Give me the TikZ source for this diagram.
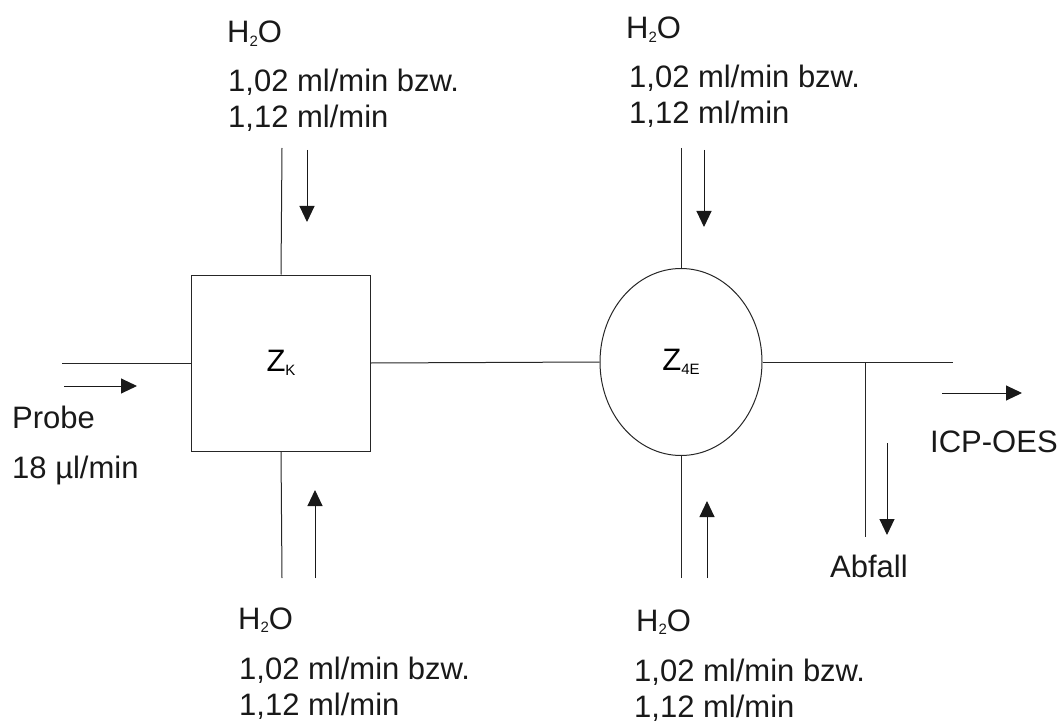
\documentclass[tikz,border=0pt]{standalone}
\usepackage{fontspec}
\setmainfont{Liberation Sans}
\usetikzlibrary{arrows.meta,shapes.geometric}
\newcommand\lowsub[1]{\raisebox{-0.12em}{\fontsize{15}{15}\selectfont #1}}
\tikzset{
  pipe/.style={draw=black!85, line width=1pt},
  flow/.style={draw=black!90, line width=1pt, -{Triangle[length=16pt,width=15pt]}},
  lbl/.style={anchor=base west, inner sep=0pt, font=\fontsize{31}{36}\selectfont, text=black!90},
  lbl2/.style={anchor=base west, inner sep=0pt, font=\fontsize{31}{36}\selectfont, text=black!90, align=left},
}
\begin{document}
\begin{tikzpicture}[x=1pt,y=-1pt]
\useasboundingbox (0,0) rectangle (1063,722);
% main units
\node[draw=black!85, line width=1pt, minimum width=179pt, minimum height=176pt, inner sep=0pt,
      font=\fontsize{31}{34}\selectfont] (box) at (281,363) {Z\lowsub{K}};
\node[ellipse, draw=black!85, line width=1pt, minimum width=162pt, minimum height=187pt, inner sep=0pt,
      font=\fontsize{31}{34}\selectfont] (ell) at (681,362) {Z\lowsub{4E}};
% pipe end points
\coordinate (pin) at (62,363);
\coordinate (t1) at (282,148);
\coordinate (b1) at (282,578);
\coordinate (t2) at (681,148);
\coordinate (b2) at (681,578);
\coordinate (pout) at (953,362);
\coordinate (junc) at (865,362);
\coordinate (waste) at (865,537);
% pipes
\draw[pipe] (pin) -- (box.west);
\draw[pipe] (box.east) -- (ell.west);
\draw[pipe] (ell.east) -- (pout);
\draw[pipe] (junc) -- (waste);
\draw[pipe] (t1) -- (box.north);
\draw[pipe] (b1) -- (box.south);
\draw[pipe] (t2) -- (ell.north);
\draw[pipe] (b2) -- (ell.south);
% flow arrows
\coordinate (a1s) at (64,386);   \coordinate (a1e) at (137,386);
\coordinate (a2s) at (307,150);  \coordinate (a2e) at (307,222);
\coordinate (a3s) at (315,578);  \coordinate (a3e) at (315,490);
\coordinate (a4s) at (704,150);  \coordinate (a4e) at (704,227);
\coordinate (a5s) at (707,578);  \coordinate (a5e) at (707,501);
\coordinate (a6s) at (887,443);  \coordinate (a6e) at (887,535);
\coordinate (a7s) at (942,393);  \coordinate (a7e) at (1022,393);
\draw[flow] (a1s) -- (a1e);
\draw[flow] (a2s) -- (a2e);
\draw[flow] (a3s) -- (a3e);
\draw[flow] (a4s) -- (a4e);
\draw[flow] (a5s) -- (a5e);
\draw[flow] (a6s) -- (a6e);
\draw[flow] (a7s) -- (a7e);
% labels
\node[lbl] (h1) at (227,43) {H\lowsub{2}O};
\node[lbl2] (r1) at (228,128) {1,02 ml/min bzw.\\1,12 ml/min};
\node[lbl] (h2) at (626,39) {H\lowsub{2}O};
\node[lbl2] (r2) at (629,124) {1,02 ml/min bzw.\\1,12 ml/min};
\node[lbl] (h3) at (238,629) {H\lowsub{2}O};
\node[lbl2] (r3) at (239,715) {1,02 ml/min bzw.\\1,12 ml/min};
\node[lbl] (h4) at (636,631) {H\lowsub{2}O};
\node[lbl2] (r4) at (634,717) {1,02 ml/min bzw.\\1,12 ml/min};
\node[lbl] (probe) at (12,428) {Probe};
\node[lbl] (rate) at (12,478) {18 µl/min};
\node[lbl] (icp) at (930,452) {ICP-OES};
\node[lbl] (abf) at (830,577) {Abfall};
\end{tikzpicture}
\end{document}
